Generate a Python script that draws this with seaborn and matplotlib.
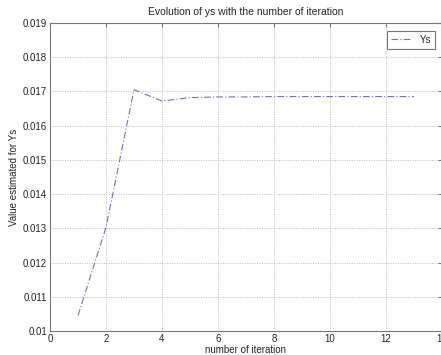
import matplotlib
matplotlib.use("Agg")
import matplotlib.pyplot as plt
import seaborn as sns
import pandas as pd

iterations = [1, 2, 3, 4, 5, 6, 7, 8, 9, 10, 11, 12, 13]
ys_values = [0.01045, 0.01303, 0.01705, 0.01672, 0.01682, 0.01684, 0.01684,
             0.01685, 0.01685, 0.01685, 0.01685, 0.01685, 0.01685]
x_ticks = [0, 2, 4, 6, 8, 10, 12, 14]
y_ticks = [0.01, 0.011, 0.012, 0.013, 0.014, 0.015, 0.016, 0.017, 0.018, 0.019]
y_tick_labels = ["0.01", "0.011", "0.012", "0.013", "0.014", "0.015", "0.016", "0.017", "0.018", "0.019"]

sns.set_style("white")
plt.rcParams['font.family'] = ['Liberation Sans', 'DejaVu Sans']

df = pd.DataFrame({"iteration": iterations, "Ys": ys_values})

fig = plt.figure(figsize=(4.41, 3.55), dpi=100)
ax = fig.add_axes([50/441, 24/355, 392/441, 308/355])

sns.lineplot(data=df, x="iteration", y="Ys", ax=ax, color="#7272bc",
             linestyle=(0, (6, 2, 1, 2)), linewidth=0.8, label="Ys")

ax.set_xlim(0, 14)
ax.set_ylim(0.01, 0.019)
ax.set_xticks(x_ticks)
ax.set_yticks(y_ticks)
ax.set_yticklabels(y_tick_labels)
ax.grid(True, linestyle=(0, (1, 1.5)), color="#bbbbbb", linewidth=0.7)
for s in ax.spines.values():
    s.set_color("#777777")
    s.set_linewidth(0.8)
ax.tick_params(axis='both', labelsize=7, length=3, direction='in', color="#777777", pad=2,
               top=True, right=True)
ax.set_xlabel("number of iteration", fontsize=7, labelpad=1)
ax.set_ylabel("Value estimated for Ys", fontsize=7, labelpad=3)
ax.set_title("Evolution of ys with the number of iteration", fontsize=7.5, pad=6)

leg = ax.legend(loc="upper right", fontsize=7, frameon=True, fancybox=False,
                handlelength=2.2, borderpad=0.4, bbox_to_anchor=(0.995, 0.99))
leg.get_frame().set_edgecolor("#555555")
leg.get_frame().set_linewidth(0.8)

fig.savefig("out.png", dpi=100)
